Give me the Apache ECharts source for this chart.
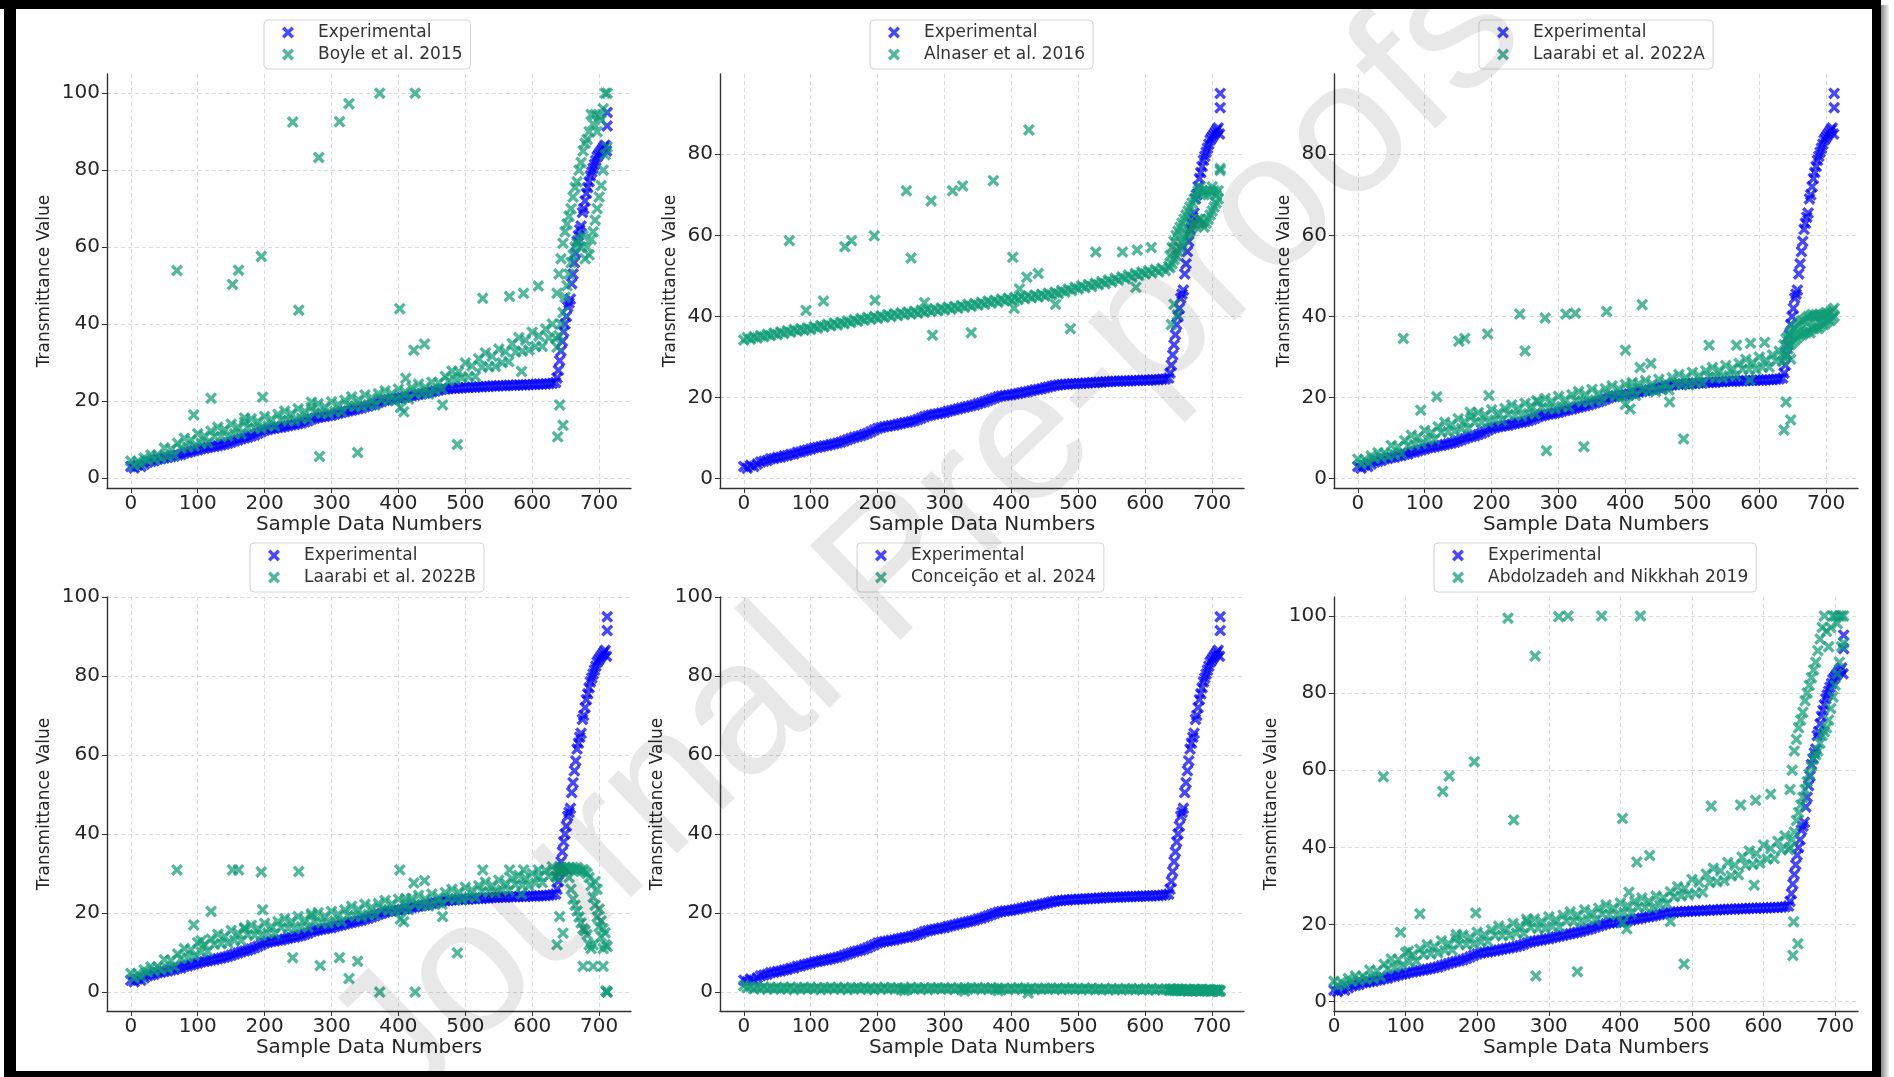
<!DOCTYPE html>
<html>
<head>
<meta charset="utf-8">
<title>Transmittance Value vs Sample Data Numbers</title>
<script src="https://cdn.jsdelivr.net/npm/echarts@6/dist/echarts.min.js"></script>
<style>
  html, body { margin: 0; padding: 0; background: #fff; }
  #chart { width: 1894px; height: 1077px; }
</style>
</head>
<body>
<div id="chart"></div>
<script>
// sample numbers: flat part 0..635 every 5, experimental steep part 637..711 every 2,
// model steep part 637..712 every 3 (two branches)
const expMain = [
  3.0, 2.6, 3.3, 3.0, 3.6, 4.1, 4.3, 4.5, 4.9, 5.0,
  5.2, 5.3, 5.6, 5.7, 6.0, 6.1, 6.5, 6.6, 6.9, 7.1,
  7.3, 7.6, 7.7, 7.9, 8.1, 8.2, 8.4, 8.6, 8.8, 9.0,
  9.3, 9.6, 9.9, 10.2, 10.4, 10.6, 10.9, 11.2, 11.6, 12.0,
  12.4, 12.6, 12.8, 12.9, 13.1, 13.2, 13.4, 13.6, 13.8, 13.9,
  14.1, 14.3, 14.6, 14.9, 15.3, 15.5, 15.7, 15.9, 16.0, 16.2,
  16.3, 16.6, 16.8, 17.0, 17.2, 17.4, 17.6, 17.8, 18.0, 18.2,
  18.5, 18.7, 19.0, 19.3, 19.6, 19.9, 20.2, 20.4, 20.5, 20.6,
  20.7, 20.9, 21.0, 21.2, 21.4, 21.5, 21.7, 21.9, 22.0, 22.2,
  22.4, 22.6, 22.8, 23.0, 23.1, 23.2, 23.3, 23.3, 23.4, 23.4,
  23.5, 23.5, 23.6, 23.6, 23.7, 23.7, 23.8, 23.8, 23.9, 23.9,
  24.0, 24.0, 24.0, 24.1, 24.1, 24.1, 24.2, 24.2, 24.2, 24.3,
  24.3, 24.3, 24.4, 24.4, 24.4, 24.5, 24.6, 24.8
];
const expRise = [
  26, 28, 30.5, 33, 35.5, 38, 40, 42, 44.5, 45.5, 46.5, 50.5, 53, 56, 58.5, 61.5, 63, 64.5, 65.5,
  69, 70, 72, 74, 75.5, 77, 78.5, 79.5, 80.5, 81.5, 82.5, 83.5, 84, 84.5, 85, 85.5, 86, 86.5, 85
];
const expTop = [[712, 91.5], [712, 95]];

// Boyle et al. 2015
const boyleMain = [
  4.4, 3.25, 4.3, 3.55, 5.2, 4.55, 6.0, 4.85, 5.9, 5.15,
  7.8, 5.5, 7.5, 5.8, 9.0, 7.7, 10.3, 8.0, 9.9, 8.3,
  11.5, 9.05, 10.9, 9.15, 12.2, 10.75, 13.2, 10.75, 12.6, 10.85,
  14.0, 11.5, 13.3, 11.5, 14.5, 13.0, 15.4, 12.9, 14.7, 12.9,
  16.0, 13.5, 15.3, 13.5, 16.5, 15.0, 17.4, 14.9, 16.7, 14.9,
  18.0, 15.5, 17.3, 15.4, 18.4, 16.9, 19.3, 16.8, 18.5, 16.7,
  19.8, 17.3, 19.1, 17.2, 20.2, 18.7, 21.1, 18.6, 20.3, 18.5,
  21.6, 19.05, 20.8, 18.95, 21.9, 20.35, 22.7, 20.15, 21.9, 20.05,
  23.1, 20.6, 22.4, 20.5, 23.5, 22.0, 24.4, 21.9, 23.6, 21.8,
  24.9, 22.65, 24.7, 23.15, 26.4, 25.15, 27.8, 25.55, 27.6, 26.05,
  29.9, 26.3, 29.1, 26.4, 31.0, 28.8, 32.5, 28.9, 31.6, 29.0,
  33.5, 29.95, 32.8, 30.25, 34.9, 32.75, 36.5, 32.95, 35.8, 33.25,
  37.9, 34.2, 36.9, 34.2, 38.7, 36.4, 40.0, 36.3
];
const boyleRiseA = [48, 53, 57, 61, 64, 66, 68, 70, 73, 75.5, 77, 80, 82, 85, 87, 88, 90, 94.5, 92, 94.5, 90, 94, 93, 96, 100, 100];
const boyleRiseB = [34, 37, 40, 43, 47, 50, 53, 56, 58, 60, 61, 62, 60, 63, 57, 60, 58, 62, 64, 67, 70, 73, 76, 80, 84, 86];
const boyleOut = [
  [69, 53.9], [94, 16.4], [120, 20.7], [152, 50.3], [161, 54], [170, 15.6], [195, 57.6], [197, 21],
  [242, 92.5], [251, 43.6], [270, 19.7], [281, 83.3], [282, 5.6], [312, 92.6], [326, 97.3], [339, 6.6],
  [372, 100], [402, 44], [403, 18.3], [408, 17.2], [411, 25.9], [425, 100], [423, 33.2], [439, 34.8],
  [466, 19], [488, 8.7], [526, 46.7], [566, 47.2], [587, 48], [609, 49.9], [584, 27.7],
  [641, 19], [646, 13.7], [638, 10.7]
];

// Alnaser et al. 2016
const alnaserMain = [
  34.2, 34.8, 34.4, 35.0, 34.7, 35.3, 35.0, 35.6, 35.3, 35.9,
  35.5, 36.2, 35.8, 36.5, 36.1, 36.8, 36.4, 37.0, 36.6, 37.2,
  36.8, 37.5, 37.1, 37.8, 37.4, 38.1, 37.7, 38.4, 37.9, 38.6,
  38.2, 38.9, 38.5, 39.2, 38.8, 39.5, 39.1, 39.8, 39.3, 40.0,
  39.5, 40.2, 39.8, 40.5, 40.0, 40.7, 40.2, 40.9, 40.4, 41.1,
  40.6, 41.3, 40.8, 41.5, 41.0, 41.7, 41.2, 41.9, 41.4, 42.1,
  41.6, 42.3, 41.8, 42.5, 42.0, 42.7, 42.3, 43.0, 42.5, 43.2,
  42.8, 43.5, 43.0, 43.8, 43.3, 44.0, 43.5, 44.3, 43.8, 44.5,
  44.0, 44.7, 44.2, 44.9, 44.4, 45.1, 44.6, 45.3, 44.8, 45.5,
  45.0, 45.7, 45.3, 46.0, 45.6, 46.4, 46.0, 46.8, 46.4, 47.2,
  46.8, 47.6, 47.1, 47.9, 47.4, 48.2, 47.8, 48.6, 48.1, 49.0,
  48.5, 49.4, 48.9, 49.8, 49.3, 50.2, 49.7, 50.6, 50.1, 51.0,
  50.5, 51.3, 50.7, 51.6, 51.0, 51.9, 51.3, 52.4
];
const alnaserRiseA = [55, 57, 58.5, 60, 61, 62, 63, 64, 65, 66, 67, 68, 69, 70, 71, 72, 71, 70, 71, 70, 71, 72, 71, 70, 71, 76.5];
const alnaserRiseB = [52, 53, 54, 55, 56, 57, 58, 59, 60, 60.5, 61, 62, 62.5, 63, 64, 64, 63, 62, 63, 64, 65, 66, 67, 68, 69, 76];
const alnaserOut = [
  [68, 58.7], [93, 41.5], [119, 43.8], [151, 57.2], [161, 58.7], [195, 59.9], [196, 44], [243, 71],
  [250, 54.4], [270, 43.4], [280, 68.5], [282, 35.4], [312, 71], [327, 72.2], [340, 36], [373, 73.5],
  [402, 54.6], [404, 42], [412, 46.8], [426, 86], [423, 49.7], [440, 50.6], [466, 43], [488, 37],
  [526, 55.9], [566, 55.9], [588, 56.4], [609, 57], [586, 47.2], [639, 38], [643, 43], [648, 40.4]
];

// Laarabi et al. 2022A
const laarabiAMain = [
  4.8, 3.65, 4.7, 3.95, 5.6, 4.95, 6.4, 5.25, 6.3, 5.55,
  8.2, 5.9, 7.9, 6.2, 9.4, 8.1, 10.7, 8.4, 10.3, 8.7,
  11.9, 9.5, 11.4, 9.7, 12.8, 11.4, 13.9, 11.5, 13.4, 11.7,
  14.8, 12.3, 14.1, 12.4, 15.4, 13.9, 16.3, 13.8, 15.7, 13.9,
  17.0, 14.5, 16.2, 14.4, 17.3, 15.8, 18.2, 15.6, 17.4, 15.5,
  18.6, 16.1, 17.8, 16.0, 19.0, 17.5, 19.8, 17.3, 19.1, 17.2,
  20.3, 17.8, 19.5, 17.7, 20.7, 19.2, 21.5, 19.0, 20.8, 18.9,
  22.0, 19.4, 21.1, 19.3, 22.2, 20.6, 22.9, 20.3, 22.1, 20.2,
  23.2, 20.6, 22.4, 20.5, 23.4, 21.9, 24.2, 21.6, 23.3, 21.5,
  24.5, 22.0, 23.7, 21.9, 24.9, 23.4, 25.7, 23.2, 25.0, 23.1,
  26.2, 23.7, 25.4, 23.6, 26.6, 25.1, 27.4, 24.9, 26.7, 24.8,
  27.9, 25.4, 27.2, 25.4, 28.4, 27.0, 29.4, 26.9, 28.7, 26.9,
  30.0, 27.5, 29.3, 27.5, 30.5, 29.0, 31.4, 28.9
];
const laarabiARiseA = [33, 34.5, 35, 36, 36.5, 37, 37.5, 38, 38.5, 39, 39, 39.5, 40, 40, 40.5, 40, 40.5, 40, 40.5, 40, 40.5, 41, 40.5, 41, 41.5, 42];
const laarabiARiseB = [30, 31, 32, 33, 33.5, 34, 34.5, 35, 35.5, 35.5, 36, 36, 36.5, 36, 37, 37, 37.5, 37, 37.5, 38, 38, 38.5, 39, 39, 39.5, 40];
const laarabiAOut = [
  [68, 34.6], [94, 16.9], [118, 20.2], [151, 33.9], [160, 34.6], [168, 16.4], [194, 35.7], [196, 20.5],
  [242, 40.6], [250, 31.5], [267, 19.2], [280, 39.6], [282, 6.9], [311, 40.6], [325, 40.8], [338, 7.9],
  [372, 41.2], [400, 31.7], [400, 18.3], [407, 17.2], [410, 23.7], [425, 42.9], [422, 27.4], [438, 28.4],
  [466, 18.9], [487, 9.8], [525, 32.9], [566, 32.9], [587, 33.4], [608, 33.6], [586, 24.3],
  [640, 18.9], [647, 14.5], [637, 12], [647, 29.5]
];

// Laarabi et al. 2022B
const laarabiBMain = [
  4.7, 3.6, 4.6, 3.9, 5.6, 5.0, 6.4, 5.3, 6.4, 5.6,
  8.2, 5.9, 8.0, 6.4, 9.6, 8.4, 11.0, 8.7, 10.7, 9.2,
  12.5, 10.1, 12.0, 10.3, 13.4, 12.1, 14.6, 12.2, 14.1, 12.4,
  15.6, 13.1, 14.9, 13.0, 16.0, 14.5, 16.9, 14.4, 16.1, 14.3,
  17.4, 14.9, 16.6, 14.8, 17.8, 16.3, 18.6, 16.1, 17.9, 16.0,
  19.1, 16.5, 18.3, 16.4, 19.3, 17.8, 20.1, 17.5, 19.2, 17.4,
  20.4, 17.9, 19.7, 17.8, 20.8, 19.3, 21.7, 19.2, 20.9, 19.1,
  22.2, 19.6, 21.4, 19.5, 22.4, 20.9, 23.2, 20.6, 22.3, 20.5,
  23.5, 20.9, 22.7, 20.8, 23.7, 22.2, 24.5, 21.9, 23.6, 21.8,
  24.8, 22.3, 24.0, 22.2, 25.2, 23.7, 26.0, 23.5, 25.3, 23.4,
  26.5, 24.0, 25.8, 23.9, 26.9, 25.4, 27.8, 25.3, 27.0, 25.2,
  28.3, 25.8, 27.5, 25.7, 28.7, 27.2, 29.5, 27.0, 28.8, 26.9,
  30.0, 27.6, 29.4, 27.7, 30.7, 29.3, 31.7, 29.3
];
const laarabiBRiseA = [30.5, 31, 31.5, 31, 31.5, 31, 29, 26, 23.5, 22, 20.5, 19, 17.5, 16, 15.5, 14.5, 12, 11, 12, 28, 26, 21, 18, 16, 12, 11.5];
const laarabiBRiseB = [29, 30, 30.5, 31, 31.5, 31, 31.5, 31, 31.5, 31, 31.5, 31, 30.5, 31, 30.5, 30, 29, 27, 24, 22, 19, 16.5, 14, 11, 15, 0];
const laarabiBOut = [
  [69, 30.9], [94, 17], [105, 13], [120, 20.4], [152, 30.9], [161, 30.9], [170, 16.3], [195, 30.4],
  [197, 20.8], [242, 8.7], [251, 30.5], [270, 19.8], [283, 6.7], [312, 8.7], [326, 3.4], [339, 7.8],
  [372, 0], [402, 30.9], [403, 18.5], [408, 17.8], [411, 23.7], [425, 0], [423, 27.6], [439, 28.2],
  [466, 19.1], [488, 9.9], [526, 30.9], [566, 30.9], [587, 30.9], [609, 30.9], [584, 24.8],
  [641, 19.1], [646, 14.9], [637, 12], [676, 6.5], [691, 6.5], [706, 6.5], [712, 0], [710, 0.3]
];

// Conceição et al. 2024
const conceicaoMain = [
  1.6, 1.1, 1.4, 0.8, 1.2, 0.9, 1.3, 0.7, 1.1, 0.9,
  1.2, 0.7, 1.1, 0.9, 1.3, 0.6, 1.0, 0.9, 1.2, 0.7,
  1.1, 0.8, 1.2, 0.6, 1.0, 0.9, 1.2, 0.7, 1.1, 0.8,
  1.2, 0.6, 1.0, 0.9, 1.1, 0.7, 1.2, 0.8, 1.0, 0.6,
  1.1, 0.8, 1.2, 0.7, 1.0, 0.9, 1.1, 0.6, 1.0, 0.8,
  1.2, 0.7, 1.0, 0.8, 1.1, 0.6, 1.0, 0.9, 1.1, 0.7,
  1.0, 0.8, 1.1, 0.6, 1.0, 0.8, 1.1, 0.7, 1.0, 0.9,
  1.1, 0.6, 1.0, 0.8, 1.1, 0.7, 1.0, 0.8, 0.9, 0.6,
  1.0, 0.8, 1.1, 0.7, 0.9, 0.8, 1.0, 0.6, 0.9, 0.8,
  1.0, 0.7, 0.9, 0.8, 1.0, 0.6, 0.9, 0.8, 1.0, 0.7,
  0.9, 0.6, 0.9, 0.7, 1.0, 0.6, 0.8, 0.7, 0.9, 0.5,
  0.9, 0.7, 0.8, 0.5, 0.9, 0.7, 0.8, 0.6, 0.9, 0.5,
  0.8, 0.6, 0.9, 0.5, 0.8, 0.6, 0.8, 0.5
];
const conceicaoRiseA = [0.8, 0.5, 0.7, 0.4, 0.8, 0.5, 0.7, 0.4, 0.7, 0.5, 0.6, 0.3, 0.7, 0.4, 0.6, 0.5, 0.7, 0.3, 0.6, 0.4, 0.6, 0.3, 0.5, 0.4, 0.6, 0.2];
const conceicaoRiseB = [0.4, 0.7, 0.3, 0.6, 0.5, 0.3, 0.6, 0.4, 0.5, 0.2, 0.5, 0.4, 0.3, 0.6, 0.4, 0.2, 0.5, 0.4, 0.3, 0.5, 0.2, 0.4, 0.3, 0.5, 0.1, 0.4];
const conceicaoOut = [[425, -0.3], [240, 0.3], [330, 0.2], [380, 0.3]];

// Abdolzadeh and Nikkhah 2019
const abdolMain = [
  5.3, 4.1, 5.1, 4.4, 6.0, 5.3, 6.7, 5.5, 6.6, 5.8,
  8.2, 6.0, 8.0, 6.5, 9.7, 8.5, 11.1, 8.9, 10.9, 9.4,
  12.7, 10.3, 12.2, 10.5, 13.6, 12.3, 14.8, 12.4, 14.3, 12.6,
  15.8, 13.3, 15.1, 13.4, 16.4, 14.9, 17.3, 14.8, 16.7, 14.9,
  18.0, 15.5, 17.4, 15.6, 18.6, 17.2, 19.6, 17.1, 18.9, 17.2,
  20.3, 17.8, 19.5, 17.7, 20.7, 19.2, 21.5, 19.0, 20.8, 18.9,
  22.0, 19.5, 21.3, 19.4, 22.4, 20.9, 23.3, 20.8, 22.5, 20.7,
  23.8, 21.3, 23.1, 21.2, 24.2, 22.7, 25.1, 22.6, 24.3, 22.5,
  25.6, 23.1, 24.9, 23.0, 26.0, 24.5, 26.9, 24.4, 26.1, 24.3,
  27.4, 25.1, 27.0, 25.4, 28.5, 27.2, 29.8, 27.4, 29.4, 27.7,
  31.7, 28.1, 31.0, 28.4, 33.1, 30.9, 34.6, 31.1, 33.9, 31.4,
  36.1, 32.6, 35.4, 32.9, 37.5, 35.4, 39.1, 35.6, 38.4, 35.9,
  40.6, 37.0, 39.7, 37.1, 41.6, 39.4, 43.0, 39.4
];
const abdolRiseA = [55, 60, 65, 68, 71, 73, 75, 78, 80, 82, 84, 86, 88, 91, 94, 97, 100, 96, 92, 97, 100, 100, 98, 100, 100, 100];
const abdolRiseB = [40, 42, 44, 47, 49, 51, 53, 55, 57, 59, 61, 63, 64, 65, 67, 69, 70, 71, 73, 76, 79, 82, 85, 88, 92, 93];
const abdolOut = [
  [69, 58.3], [93, 18], [104, 13.1], [120, 22.8], [152, 54.5], [161, 58.5], [171, 17.4], [196, 62.2],
  [198, 23], [243, 99.4], [251, 47.1], [269, 21.4], [281, 89.6], [282, 6.7], [314, 99.8], [327, 100],
  [340, 7.8], [374, 100], [403, 47.5], [403, 20.5], [409, 18.9], [412, 28.4], [428, 100], [423, 36.2],
  [441, 37.9], [470, 20.8], [489, 9.8], [527, 50.7], [568, 51], [589, 52.2], [610, 53.8], [587, 30.2],
  [642, 20.7], [648, 15], [641, 12]
];

const xTicks = [0, 100, 200, 300, 400, 500, 600, 700];
const yTicksTall = [0, 20, 40, 60, 80, 100];
const yTicksShort = [0, 20, 40, 60, 80];

const models = [
  { name: 'Boyle et al. 2015', main: boyleMain, a: boyleRiseA, b: boyleRiseB, out: boyleOut },
  { name: 'Alnaser et al. 2016', main: alnaserMain, a: alnaserRiseA, b: alnaserRiseB, out: alnaserOut },
  { name: 'Laarabi et al. 2022A', main: laarabiAMain, a: laarabiARiseA, b: laarabiARiseB, out: laarabiAOut },
  { name: 'Laarabi et al. 2022B', main: laarabiBMain, a: laarabiBRiseA, b: laarabiBRiseB, out: laarabiBOut },
  { name: 'Conceição et al. 2024', main: conceicaoMain, a: conceicaoRiseA, b: conceicaoRiseB, out: conceicaoOut },
  { name: 'Abdolzadeh and Nikkhah 2019', main: abdolMain, a: abdolRiseA, b: abdolRiseB, out: abdolOut }
];

// panel placement in the 1894x1077 figure
const panels = [
  { left: 107, top: 74, xMin: -35.6, xMax: 747.6, yMin: -2.6, yMax: 105, yt: yTicksTall, gap: 54, legLeft: 264, legTop: 20 },
  { left: 720, top: 74, xMin: -35.6, xMax: 747.6, yMin: -2.3, yMax: 99.8, yt: yTicksShort, gap: 41, legLeft: 870, legTop: 20 },
  { left: 1334, top: 74, xMin: -35.6, xMax: 747.6, yMin: -2.3, yMax: 99.8, yt: yTicksShort, gap: 41, legLeft: 1479, legTop: 20 },
  { left: 107, top: 597, xMin: -35.6, xMax: 747.6, yMin: -4.8, yMax: 100, yt: yTicksTall, gap: 54, legLeft: 250, legTop: 543 },
  { left: 720, top: 597, xMin: -35.6, xMax: 747.6, yMin: -4.8, yMax: 100, yt: yTicksTall, gap: 54, legLeft: 857, legTop: 543 },
  { left: 1334, top: 597, xMin: 0, xMax: 732, yMin: -2.4, yMax: 104.9, yt: yTicksTall, gap: 54, legLeft: 1434, legTop: 543 }
];

const XMARK = 'path://M0,2L2,0L5,3L8,0L10,2L7,5L10,8L8,10L5,7L2,10L0,8L3,5Z';
const BLUE = '#0000ff';
const GREEN = '#0f9d76';
const FONT = 'DejaVu Sans';
const TXT = '#262626';

function mainPts(vals) { return vals.map((v, i) => [i * 5, v]); }
function risePts(vals) { return vals.map((v, i) => [637 + i * 3, v]); }
const expPts = mainPts(expMain).concat(expRise.map((v, i) => [637 + i * 2, v]), expTop);

const chart = echarts.init(document.getElementById('chart'));

const grid = [], xAxis = [], yAxis = [], series = [], legend = [];
panels.forEach((p, k) => {
  grid.push({ left: p.left, top: p.top, width: 524, height: 414 });
  xAxis.push({
    gridIndex: k, type: 'value', min: p.xMin, max: p.xMax,
    name: 'Sample Data Numbers', nameLocation: 'middle', nameGap: 26,
    nameTextStyle: { fontFamily: FONT, fontSize: 20, color: TXT },
    axisLine: { show: true, onZero: false, lineStyle: { color: '#333', width: 1.4 } },
    axisTick: { show: true, length: 5, customValues: xTicks, lineStyle: { color: '#333' } },
    axisLabel: { customValues: xTicks, margin: 6, fontFamily: FONT, fontSize: 20, color: TXT },
    splitLine: { show: true, lineStyle: { color: '#d2d2d2', width: 0.8, type: [4, 3] } }
  });
  yAxis.push({
    gridIndex: k, type: 'value', min: p.yMin, max: p.yMax,
    name: 'Transmittance Value', nameLocation: 'middle', nameGap: p.gap,
    nameTextStyle: { fontFamily: FONT, fontSize: 17, color: TXT },
    axisLine: { show: true, onZero: false, lineStyle: { color: '#333', width: 1.4 } },
    axisTick: { show: true, length: 5, customValues: p.yt, lineStyle: { color: '#333' } },
    axisLabel: { customValues: p.yt, margin: 7, fontFamily: FONT, fontSize: 20, color: TXT },
    splitLine: { show: true, lineStyle: { color: '#d2d2d2', width: 0.8, type: [4, 3] } }
  });
  const m = models[k];
  series.push({
    name: 'Experimental', type: 'scatter', xAxisIndex: k, yAxisIndex: k,
    symbol: XMARK, symbolSize: 12, symbolKeepAspect: true,
    itemStyle: { color: BLUE, opacity: 0.72 },
    data: expPts
  });
  series.push({
    name: m.name, type: 'scatter', xAxisIndex: k, yAxisIndex: k,
    symbol: XMARK, symbolSize: 12, symbolKeepAspect: true,
    itemStyle: { color: GREEN, opacity: 0.72 },
    data: mainPts(m.main).concat(risePts(m.a), risePts(m.b), m.out)
  });
  legend.push({
    left: p.legLeft, top: p.legTop, orient: 'vertical',
    data: ['Experimental', m.name],
    itemWidth: 12, itemHeight: 12, itemGap: 5,
    backgroundColor: '#fff', borderColor: '#d4d4d4', borderWidth: 1, borderRadius: 4,
    padding: [4, 8, 6, 18],
    textStyle: { fontFamily: FONT, fontSize: 17, lineHeight: 17, color: '#333', padding: [0, 0, 0, 19] },
    selectedMode: false
  });
});

chart.setOption({
  backgroundColor: '#fff',
  animation: false,
  grid: grid,
  xAxis: xAxis,
  yAxis: yAxis,
  legend: legend,
  series: series,
  graphic: [
    {
      type: 'text', x: 929, y: 540, rotation: 0.763, z: 100, silent: true,
      style: {
        text: 'Journal Pre-proofs', fontFamily: 'Liberation Sans', fontSize: 190,
        fill: 'rgba(0,0,0,0.09)', align: 'center', verticalAlign: 'middle'
      }
    },
    { type: 'rect', z: 101, silent: true, shape: { x: 0, y: 0, width: 1881, height: 9 }, style: { fill: '#000' } },
    { type: 'rect', z: 101, silent: true, shape: { x: 4, y: 0, width: 12, height: 1077 }, style: { fill: '#000' } },
    { type: 'rect', z: 101, silent: true, shape: { x: 4, y: 1071, width: 1877, height: 6 }, style: { fill: '#000' } },
    { type: 'rect', z: 101, silent: true, shape: { x: 1872, y: 0, width: 9, height: 1077 }, style: { fill: '#000' } },
    {
      type: 'rect', z: 101, silent: true, shape: { x: 1881, y: 5, width: 8, height: 1072 },
      style: { fill: new echarts.graphic.LinearGradient(0, 0, 1, 0, [{ offset: 0, color: '#888' }, { offset: 1, color: '#f4f4f4' }]) }
    }
  ]
});
</script>
</body>
</html>
